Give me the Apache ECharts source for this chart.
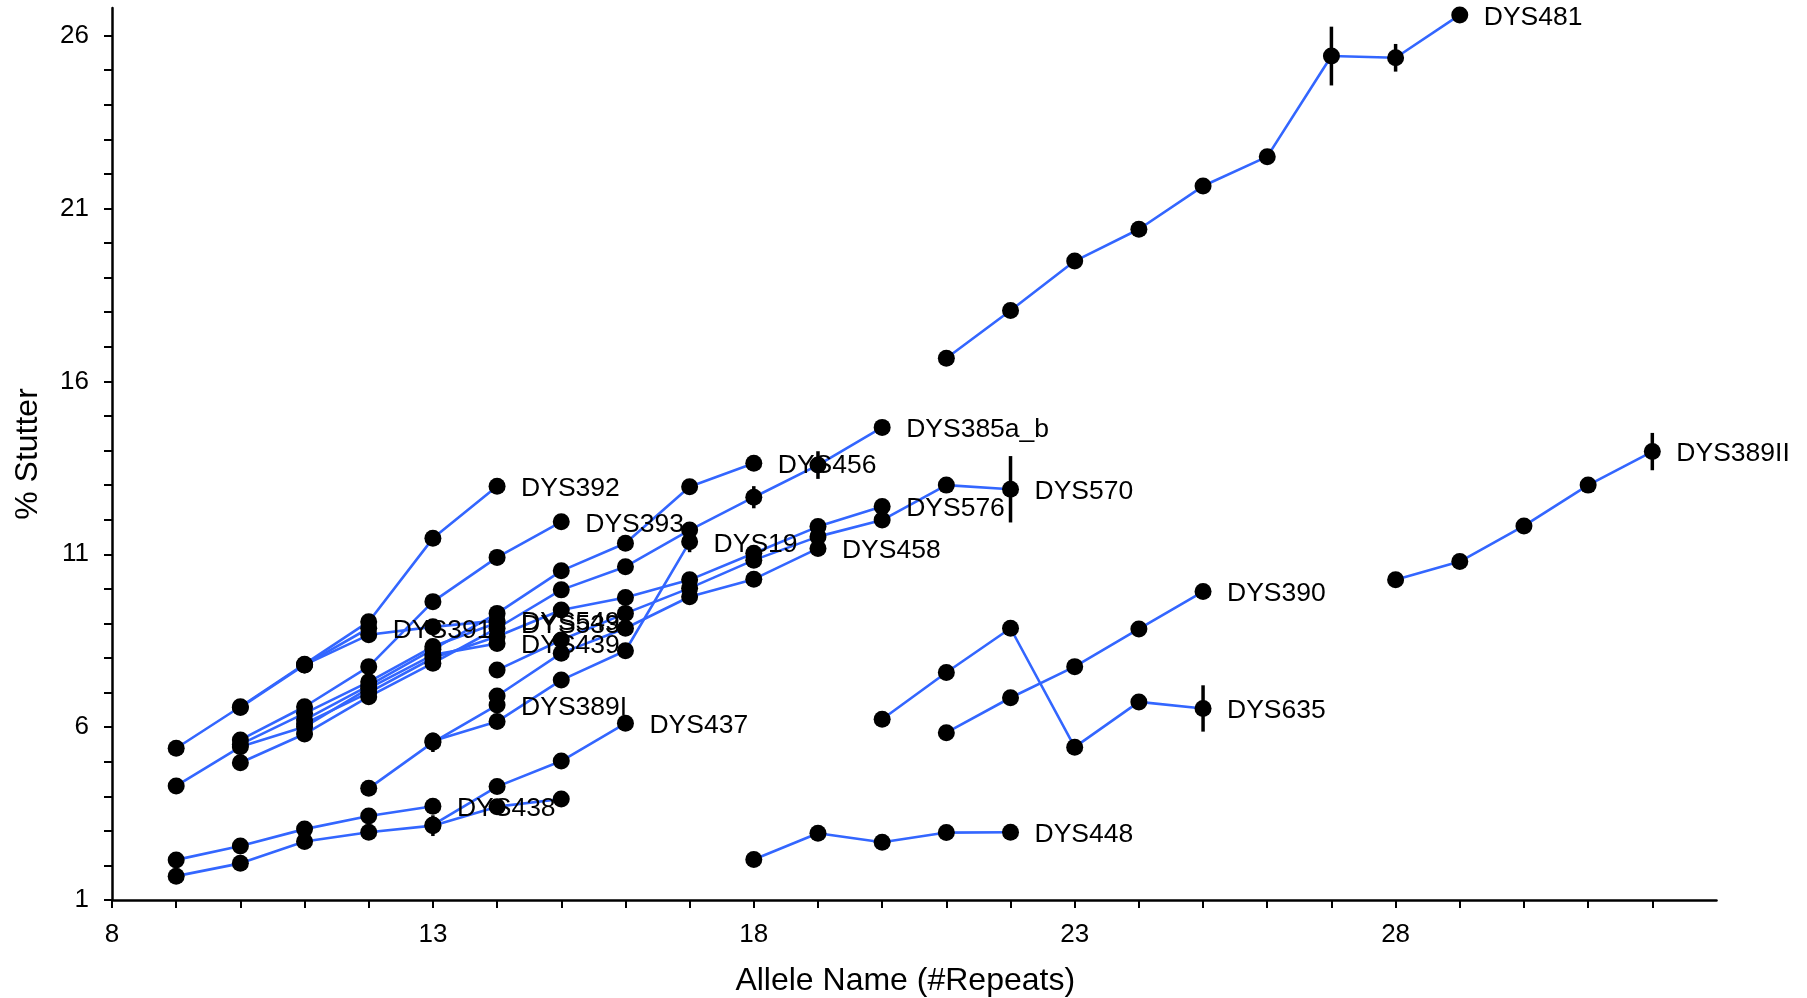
<!DOCTYPE html>
<html>
<head>
<meta charset="utf-8">
<script src="https://cdn.jsdelivr.net/npm/echarts@6/dist/echarts.min.js"></script>
<style>
html,body{margin:0;padding:0;background:#ffffff;}
#chart{width:1807px;height:998px;}
</style>
</head>
<body>
<div id="chart"></div>
<script>
// ---------- data (allele = #repeats, stutter = % stutter) ----------
const DYS392_allele = [9, 10, 11, 12, 13, 14];
const DYS392_stutter = [5.39, 6.59, 7.82, 9.05, 11.46, 12.97];

const DYS391_allele = [10, 11, 12];
const DYS391_stutter = [6.57, 7.80, 8.86];

const DYS549_allele = [11, 12, 13, 14];
const DYS549_stutter = [7.80, 8.67, 8.90, 9.08];

const DYS393_allele = [10, 11, 12, 13, 14, 15];
const DYS393_stutter = [5.63, 6.59, 7.75, 9.63, 10.91, 11.94];

const DYS533_allele = [10, 11, 12, 13, 14];
const DYS533_stutter = [5.50, 6.40, 7.31, 8.33, 9.02];

const DYS456_allele = [11, 12, 13, 14, 15, 16, 17, 18];
const DYS456_stutter = [6.21, 7.20, 8.25, 9.29, 10.52, 11.32, 12.95, 13.63];

const DYS439_allele = [9, 10, 11, 12, 13, 14];
const DYS439_stutter = [4.30, 5.43, 6.01, 7.12, 8.09, 8.42];

const DYS385ab_allele = [10, 11, 12, 13, 14, 15, 16, 17, 18, 19, 20];
const DYS385ab_stutter = [4.97, 5.80, 6.88, 7.85, 8.86, 9.97, 10.64, 11.70, 12.65, 13.58, 14.67];

const DYS576_allele = [11, 12, 13, 14, 15, 16, 17, 18, 19, 20];
const DYS576_stutter = [6.10, 7.00, 8.00, 8.62, 9.39, 9.75, 10.26, 11.03, 11.80, 12.38];

const DYS570_allele = [14, 15, 16, 17, 18, 19, 20, 21, 22];
const DYS570_stutter = [7.65, 8.52, 9.29, 10.02, 10.83, 11.51, 11.99, 13.00, 12.88];

const DYS458_allele = [14, 15, 16, 17, 18, 19];
const DYS458_stutter = [6.90, 8.14, 8.86, 9.77, 10.28, 11.17];

const DYS19_allele = [13, 14, 15, 16, 17];
const DYS19_stutter = [5.60, 6.16, 7.36, 8.21, 11.36];

const DYS389I_allele = [12, 13, 14];
const DYS389I_stutter = [4.23, 5.56, 6.64];

const DYS437_allele = [13, 14, 15, 16];
const DYS437_stutter = [3.17, 4.28, 5.02, 6.11];

const DYS438_allele = [9, 10, 11, 12, 13];
const DYS438_stutter = [2.16, 2.56, 3.05, 3.43, 3.71];

const DYS643_allele = [9, 10, 11, 12, 13, 14, 15];
const DYS643_stutter = [1.69, 2.06, 2.69, 2.96, 3.15, 3.70, 3.92];

const DYS448_allele = [18, 19, 20, 21, 22];
const DYS448_stutter = [2.17, 2.93, 2.67, 2.95, 2.96];

const DYS635_allele = [20, 21, 22, 23, 24, 25];
const DYS635_stutter = [6.23, 7.58, 8.86, 5.42, 6.73, 6.54];

const DYS390_allele = [21, 22, 23, 24, 25];
const DYS390_stutter = [5.84, 6.85, 7.75, 8.84, 9.92];

const DYS481_allele = [21, 22, 23, 24, 25, 26, 27, 28, 29];
const DYS481_stutter = [16.67, 18.05, 19.48, 20.40, 21.65, 22.50, 25.41, 25.36, 26.60];

const DYS389II_allele = [28, 29, 30, 31, 32];
const DYS389II_stutter = [10.26, 10.79, 11.82, 13.00, 13.97];

// error bars: [locus, allele, half-width]
const errorBars = [
  ['DYS481', 27, 0.85],
  ['DYS481', 28, 0.40],
  ['DYS389II', 32, 0.54],
  ['DYS570', 22, 0.96],
  ['DYS635', 25, 0.67],
  ['DYS385a_b', 19, 0.40],
  ['DYS385a_b', 18, 0.32],
  ['DYS19', 17, 0.30],
  ['DYS389I', 13, 0.28],
  ['DYS643', 13, 0.30]
];

// loci whose end label is not shown in the picture
const unlabelledLoci = ['DYS643'];

// axis ticks
const xTickValues = [8,9,10,11,12,13,14,15,16,17,18,19,20,21,22,23,24,25,26,27,28,29,30,31,32];
const xTickLabels = [8, 13, 18, 23, 28];
const yTickValues = [1,2,3,4,5,6,7,8,9,10,11,12,13,14,15,16,17,18,19,20,21,22,23,24,25,26];
const yTickLabels = [1, 6, 11, 16, 21, 26];

// ---------- build ----------
const loci = [
  ['DYS392', DYS392_allele, DYS392_stutter],
  ['DYS391', DYS391_allele, DYS391_stutter],
  ['DYS549', DYS549_allele, DYS549_stutter],
  ['DYS393', DYS393_allele, DYS393_stutter],
  ['DYS533', DYS533_allele, DYS533_stutter],
  ['DYS456', DYS456_allele, DYS456_stutter],
  ['DYS439', DYS439_allele, DYS439_stutter],
  ['DYS385a_b', DYS385ab_allele, DYS385ab_stutter],
  ['DYS576', DYS576_allele, DYS576_stutter],
  ['DYS570', DYS570_allele, DYS570_stutter],
  ['DYS458', DYS458_allele, DYS458_stutter],
  ['DYS19', DYS19_allele, DYS19_stutter],
  ['DYS389I', DYS389I_allele, DYS389I_stutter],
  ['DYS437', DYS437_allele, DYS437_stutter],
  ['DYS438', DYS438_allele, DYS438_stutter],
  ['DYS643', DYS643_allele, DYS643_stutter],
  ['DYS448', DYS448_allele, DYS448_stutter],
  ['DYS635', DYS635_allele, DYS635_stutter],
  ['DYS390', DYS390_allele, DYS390_stutter],
  ['DYS481', DYS481_allele, DYS481_stutter],
  ['DYS389II', DYS389II_allele, DYS389II_stutter]
];

const FONT = "'Liberation Sans', Arial, Helvetica, sans-serif";
const LINE_BLUE = '#3366FF';

const series = [];
const allPoints = [];
loci.forEach(([name, xs, ys]) => {
  const data = xs.map((x, i) => [x, ys[i]]);
  data.forEach(p => allPoints.push(p));
  series.push({
    name: name,
    type: 'line',
    data: data,
    showSymbol: false,
    symbol: 'none',
    silent: true,
    z: 2,
    lineStyle: { color: LINE_BLUE, width: 2.6 },
    endLabel: {
      show: unlabelledLoci.indexOf(name) < 0,
      formatter: name,
      distance: 24,
      offset: [0, 2.5],
      color: '#000000',
      fontSize: 26.5,
      fontFamily: FONT
    },
    animation: false
  });
});

const errData = errorBars.map(([name, x, e]) => {
  const locus = loci.find(l => l[0] === name);
  const y = locus[2][locus[1].indexOf(x)];
  return [x, y, e];
});

series.push({
  name: 'errorbars',
  type: 'custom',
  data: errData,
  z: 3,
  silent: true,
  animation: false,
  renderItem: function (params, api) {
    const x = api.value(0), y = api.value(1), e = api.value(2);
    const p1 = api.coord([x, y - e]);
    const p2 = api.coord([x, y + e]);
    return {
      type: 'line',
      shape: { x1: p1[0], y1: p1[1], x2: p2[0], y2: p2[1] },
      style: { stroke: '#000000', lineWidth: 3.5 }
    };
  }
});

series.push({
  name: 'points',
  type: 'scatter',
  data: allPoints,
  symbol: 'circle',
  symbolSize: 17,
  z: 4,
  silent: true,
  animation: false,
  itemStyle: { color: '#000000', opacity: 1 }
});

const chart = echarts.init(document.getElementById('chart'), null, { renderer: 'canvas' });
chart.setOption({
  animation: false,
  backgroundColor: '#ffffff',
  textStyle: { fontFamily: FONT },
  grid: {
    left: 112, right: 90.5, top: 8, bottom: 98,
    containLabel: false,
    outerBoundsMode: 'none'
  },
  xAxis: {
    type: 'value',
    min: 8, max: 33, interval: 1,
    name: 'Allele Name (#Repeats)',
    nameLocation: 'middle',
    nameGap: 65,
    nameTextStyle: { fontSize: 32, color: '#000000', fontFamily: FONT, padding: [0, 18, 0, 0] },
    axisLine: { show: true, onZero: false, lineStyle: { color: '#000000', width: 2.5 } },
    axisTick: { show: true, length: 8, lineStyle: { color: '#000000', width: 2 }, customValues: xTickValues },
    axisLabel: { show: true, customValues: xTickLabels, fontSize: 26, color: '#000000', margin: 22, fontFamily: FONT },
    splitLine: { show: false }
  },
  yAxis: {
    type: 'value',
    min: 1, max: 26.8, interval: 1,
    name: '% Stutter',
    nameLocation: 'middle',
    nameGap: 68,
    nameRotate: 90,
    nameTextStyle: { fontSize: 32, color: '#000000', fontFamily: FONT },
    axisLine: { show: true, onZero: false, lineStyle: { color: '#000000', width: 2.5 } },
    axisTick: { show: true, length: 8, lineStyle: { color: '#000000', width: 2 }, customValues: yTickValues },
    axisLabel: { show: true, customValues: yTickLabels, fontSize: 26, color: '#000000', margin: 23, fontFamily: FONT },
    splitLine: { show: false }
  },
  series: series
});
</script>
</body>
</html>
